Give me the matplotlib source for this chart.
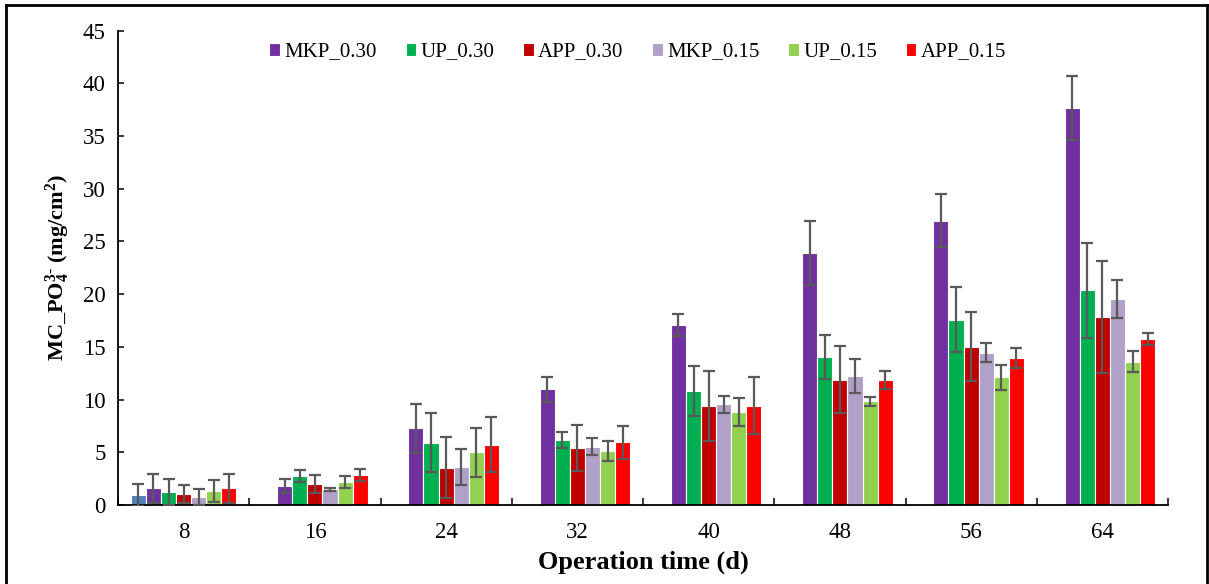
import matplotlib
matplotlib.use("Agg")
import matplotlib.pyplot as plt
import numpy as np
from matplotlib.lines import Line2D

plt.rcParams['font.family'] = ['Liberation Serif', 'DejaVu Serif']
plt.rcParams['mathtext.fontset'] = 'custom'
plt.rcParams['mathtext.rm'] = 'Liberation Serif:bold'
plt.rcParams['mathtext.bf'] = 'Liberation Serif:bold'
plt.rcParams['mathtext.it'] = 'Liberation Serif:bold'

categories = ["8", "16", "24", "32", "40", "48", "56", "64"]

# extra (unlabelled) series only present at day 8
extra = [0.95, np.nan, np.nan, np.nan, np.nan, np.nan, np.nan, np.nan]
extra_err = [1.0, 0, 0, 0, 0, 0, 0, 0]

mkp_030 = [1.58, 1.80, 7.26, 10.96, 17.12, 23.90, 26.97, 37.64]
mkp_030_err = [1.35, 0.70, 2.35, 1.15, 1.04, 3.07, 2.50, 3.03]
up_030 = [1.23, 2.75, 5.90, 6.16, 10.80, 14.05, 17.59, 20.37]
up_030_err = [1.20, 0.60, 2.80, 0.76, 2.37, 2.08, 3.10, 4.50]
app_030 = [1.04, 1.99, 3.54, 5.40, 9.41, 11.90, 15.03, 17.81]
app_030_err = [0.85, 0.85, 2.87, 2.20, 3.30, 3.20, 3.30, 5.30]
mkp_015 = [0.79, 1.50, 3.63, 5.53, 9.54, 12.25, 14.46, 19.54]
mkp_015_err = [0.76, 0.15, 1.70, 0.82, 0.79, 1.60, 0.88, 1.80]
up_015 = [1.33, 2.18, 4.99, 5.12, 8.81, 9.82, 12.10, 13.58]
up_015_err = [1.07, 0.55, 2.33, 0.98, 1.33, 0.40, 1.20, 1.00]
app_015 = [1.58, 2.84, 5.71, 5.94, 9.44, 11.84, 13.96, 15.73]
app_015_err = [1.36, 0.54, 2.60, 1.57, 2.70, 0.88, 0.98, 0.57]

series = [
    (None, extra, extra_err, "#4F81BD"),
    ("MKP_0.30", mkp_030, mkp_030_err, "#7030A0"),
    ("UP_0.30", up_030, up_030_err, "#00B050"),
    ("APP_0.30", app_030, app_030_err, "#C00000"),
    ("MKP_0.15", mkp_015, mkp_015_err, "#B1A0C7"),
    ("UP_0.15", up_015, up_015_err, "#92D050"),
    ("APP_0.15", app_015, app_015_err, "#FF0000"),
]

W, H = 1209, 584
fig = plt.figure(figsize=(W / 100, H / 100), dpi=100)
ax = fig.add_axes([118 / W, 1 - 505 / H, (1168 - 118) / W, (505 - 30.7) / H])

x = np.arange(len(categories))
n = len(series)
slot = 0.115
handles = []
for i, (name, vals, errs, col) in enumerate(series):
    pos = x + (i - (n - 1) / 2) * slot
    b = ax.bar(pos, vals, width=slot, color=col, edgecolor='white', linewidth=0.8,
               label=name if name else "_nolegend_", zorder=2)
    v = np.array(vals, dtype=float)
    e = np.array(errs, dtype=float)
    m = ~np.isnan(v)
    ax.errorbar(pos[m], v[m], yerr=e[m], fmt='none', ecolor='#595959',
                elinewidth=1.6, capsize=4.5, capthick=1.6, zorder=3)
    if name:
        handles.append(b)

ax.set_xlim(-0.5, len(categories) - 0.5)
ax.set_ylim(0, 45)
ax.set_yticks(np.arange(0, 46, 5))
ax.tick_params(axis='y', direction='in', length=4, width=1.1, labelsize=16.5, pad=9)
ax.set_xticks(x)
ax.set_xticklabels(categories)
ax.tick_params(axis='x', which='major', length=0, labelsize=16.5, pad=12)
ax.set_xticks(np.arange(-0.5, len(categories), 1.0), minor=True)
ax.tick_params(axis='x', which='minor', direction='in', length=5, width=1.1)

for s in ['top', 'right']:
    ax.spines[s].set_visible(False)
for s in ['left', 'bottom']:
    ax.spines[s].set_linewidth(1.3)

ax.set_xlabel("Operation time (d)", fontsize=19, fontweight='bold', labelpad=6)
ax.set_ylabel(r"MC_PO$_4^{3\text{-}}$ (mg/cm$^2$)", fontsize=16, fontweight='bold', labelpad=8)

ax.legend(handles=handles, loc='center', bbox_to_anchor=(0.5 - 0.005, 1 - (52 - 30.7) / (505 - 30.7)),
          ncol=6, frameon=False, fontsize=15, handlelength=0.5, handleheight=0.6,
          handletextpad=0.2, columnspacing=1.4)

# figure frame
lw = 2.0
fig.add_artist(Line2D([6 / W, 6 / W], [0, 1 - 5 / H], color='black', lw=lw, transform=fig.transFigure))
fig.add_artist(Line2D([6 / W, 1206.5 / W], [1 - 5 / H, 1 - 5 / H], color='black', lw=lw, transform=fig.transFigure))
fig.add_artist(Line2D([1206.5 / W, 1206.5 / W], [0, 1 - 5 / H], color='black', lw=lw, transform=fig.transFigure))

fig.savefig("out.png", dpi=100)
